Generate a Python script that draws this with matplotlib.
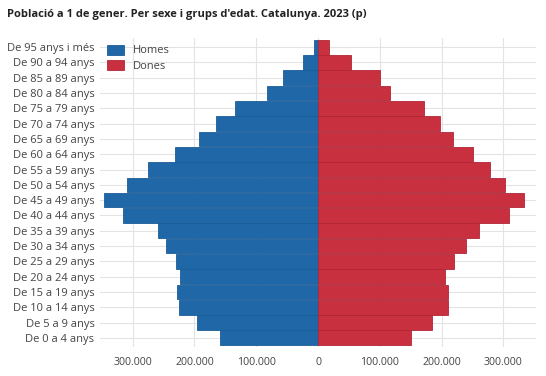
import matplotlib
matplotlib.use("Agg")
import matplotlib.pyplot as plt
import numpy as np

plt.rcParams['font.family'] = ['Open Sans', 'DejaVu Sans']

# Age groups, bottom to top
groups = ["De 0 a 4 anys", "De 5 a 9 anys", "De 10 a 14 anys", "De 15 a 19 anys",
          "De 20 a 24 anys", "De 25 a 29 anys", "De 30 a 34 anys", "De 35 a 39 anys",
          "De 40 a 44 anys", "De 45 a 49 anys", "De 50 a 54 anys", "De 55 a 59 anys",
          "De 60 a 64 anys", "De 65 a 69 anys", "De 70 a 74 anys", "De 75 a 79 anys",
          "De 80 a 84 anys", "De 85 a 89 anys", "De 90 a 94 anys", "De 95 anys i més"]

homes = [159000, 196000, 225000, 228000, 223000, 230000, 246000, 259000, 316000, 347000,
         310000, 276000, 232000, 193000, 165000, 134000, 83000, 57000, 25000, 6500]
dones = [151000, 185000, 210000, 210000, 206000, 220000, 240000, 260000, 309000, 334000,
         302000, 279000, 251000, 218000, 198000, 172000, 116000, 101000, 54000, 18000]

ticks = [-300000, -200000, -100000, 0, 100000, 200000, 300000]
tick_labels = ["300.000", "200.000", "100.000", "0", "100.000", "200.000", "300.000"]

blue = "#1f67a7"
red = "#c9303f"

fig = plt.figure(figsize=(5.46, 3.76), dpi=100)
ax = fig.add_axes([100 / 546, 29 / 376, 436 / 546, 309 / 376])

y = np.arange(len(groups))
ax.barh(y, -np.array(homes), height=0.96, color=blue, edgecolor="#1a5d98",
        linewidth=0.6, label="Homes", zorder=3)
ax.barh(y, dones, height=0.96, color=red, edgecolor="#b32536",
        linewidth=0.6, label="Dones", zorder=3)

ax.set_yticks(y)
ax.set_yticklabels(groups, fontsize=8, color="#444444")
ax.set_xticks(ticks)
ax.set_xticklabels(tick_labels, fontsize=7.6, color="#444444")
ax.set_xlim(-353000, 353000)
ax.set_ylim(-0.6, len(groups) - 0.4)

ax.grid(True, color="#e3e3e3", linewidth=0.8, zorder=0)
ax.tick_params(axis="y", length=0, pad=4)
ax.tick_params(axis="x", length=0, pad=7)
for s in ax.spines.values():
    s.set_visible(False)

leg = ax.legend(loc="upper left", bbox_to_anchor=(0.0, 1.0), fontsize=8,
                frameon=False, handlelength=1.6, handleheight=1.0,
                labelspacing=0.35, borderaxespad=0.2)
for t in leg.get_texts():
    t.set_color("#444444")

fig.text(7 / 546, 1 - 15 / 376, "Població a 1 de gener. Per sexe i grups d'edat. Catalunya. 2023 (p)",
         fontsize=8, fontweight="bold", va="center", ha="left", color="#222222")

fig.savefig("out.png", dpi=100)
